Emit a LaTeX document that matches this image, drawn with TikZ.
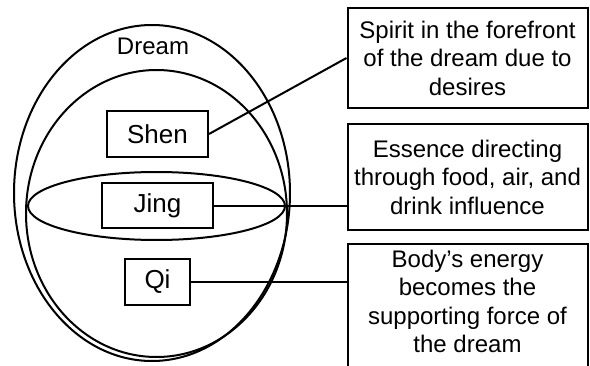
\documentclass[tikz,border=0pt]{standalone}
\usepackage{fontspec}
\setmainfont{Liberation Sans}
\begin{document}
\begin{tikzpicture}[x=1pt,y=1pt,
  lw/.style={line width=2pt},
  inbox/.style={draw,lw,font=\fontsize{26}{30}\selectfont,inner sep=0pt,minimum height=46pt},
  notebox/.style={draw,lw,font=\fontsize{24}{28.5}\selectfont,align=center,minimum width=240pt,inner xsep=3pt},
  notetext/.style={font=\fontsize{24}{28.5}\selectfont,align=center,inner sep=0pt}]
\useasboundingbox (0,0) rectangle (590,365);
% ellipses
\draw[lw] (152,172) ellipse [x radius=138, y radius=168];
\draw[lw] (156.5,151.5) ellipse [x radius=130.5, y radius=143.5];
\draw[lw] (156.5,159) ellipse [x radius=128.5, y radius=34];
\node[font=\fontsize{24}{28}\selectfont] (dream) at (153,318.5) {Dream};
% inner boxes
\node[inbox,minimum width=101pt] (shen) at (157.5,231) {Shen};
\node[inbox,minimum width=111pt,minimum height=45pt] (jing) at (157.5,159.5) {Jing};
\node[inbox,minimum width=65pt] (qi) at (157.5,83) {Qi};
% note boxes
\node[notebox,minimum height=100pt] (n1) at (467.5,307) {Spirit in the forefront\\of the dream due to\\desires};
\node[notebox,minimum height=106pt] (n2) at (467.5,188) {Essence directing\\through food, air, and\\drink influence};
\node[draw,lw,minimum width=240pt,minimum height=150pt,anchor=north,inner sep=0pt] (n3) at (467.5,122) {};
\node[notetext,anchor=north] (t3) at ([yshift=-6.5pt]n3.north) {Body's energy\\becomes the\\supporting force of\\the dream};
% connectors
\draw[lw] (shen.east) -- (n1.west);
\draw[lw] (jing.east) -- (jing.east -| n2.west);
\draw[lw] (qi.east) -- (qi.east -| n3.west);
\end{tikzpicture}
\end{document}
